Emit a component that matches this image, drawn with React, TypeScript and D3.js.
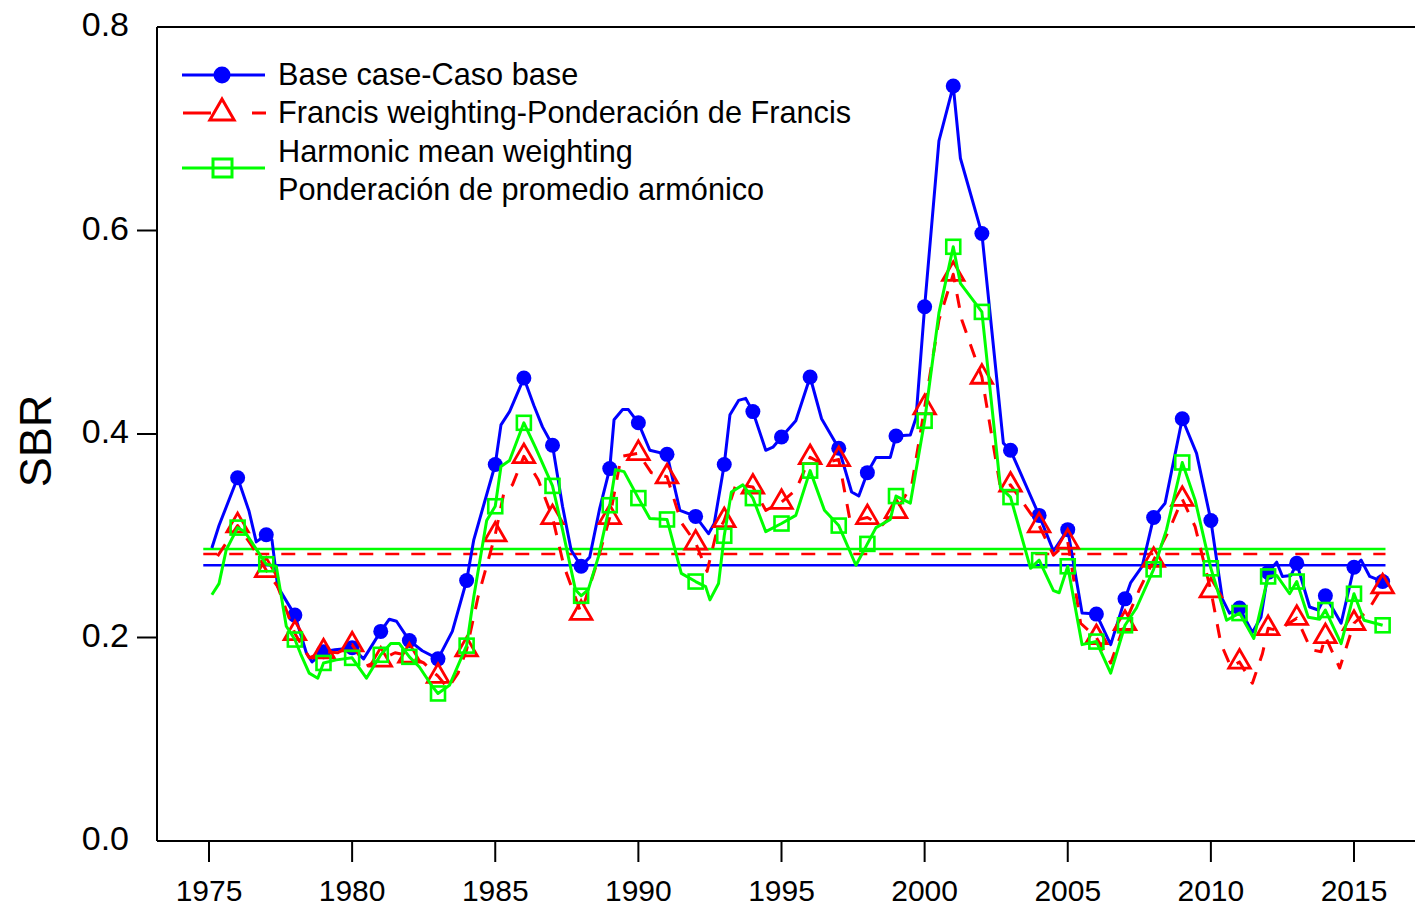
import React from 'react';
import * as d3 from 'd3';

// ---- data (year, SBR) ----
const baseCase: [number, number][] = [
  [1975.1, 0.288], [1975.35, 0.31], [1976, 0.357], [1976.4, 0.324], [1976.65, 0.294], [1977, 0.301],
  [1977.2, 0.296], [1977.4, 0.25], [1978, 0.222], [1978.4, 0.185], [1978.6, 0.176], [1979, 0.186],
  [1979.4, 0.188], [1979.75, 0.189], [1980, 0.19], [1980.4, 0.179], [1981, 0.206], [1981.3, 0.218],
  [1981.55, 0.216], [1982, 0.197], [1982.45, 0.187], [1983, 0.179], [1983.5, 0.206], [1984, 0.256],
  [1984.25, 0.296], [1985, 0.37], [1985.2, 0.409], [1985.5, 0.422], [1986, 0.455], [1986.35, 0.428],
  [1986.65, 0.407], [1987, 0.389], [1987.35, 0.329], [1987.65, 0.286], [1988, 0.27], [1988.3, 0.279],
  [1988.65, 0.327], [1989, 0.366], [1989.15, 0.414], [1989.45, 0.424], [1989.65, 0.424], [1990, 0.411],
  [1990.4, 0.384], [1991, 0.38], [1991.45, 0.325], [1992, 0.319], [1992.45, 0.302], [1992.65, 0.312],
  [1993, 0.37], [1993.2, 0.419], [1993.5, 0.433], [1993.75, 0.435], [1994, 0.422], [1994.45, 0.384],
  [1994.7, 0.387], [1995, 0.397], [1995.5, 0.413], [1996, 0.456], [1996.4, 0.415], [1997, 0.386],
  [1997.45, 0.343], [1997.7, 0.339], [1998, 0.362], [1998.3, 0.377], [1998.8, 0.377], [1999, 0.398],
  [1999.5, 0.399], [1999.7, 0.416], [2000, 0.525], [2000.5, 0.688], [2001, 0.742], [2001.25, 0.671],
  [2002, 0.597], [2002.75, 0.391], [2003, 0.384], [2004, 0.32], [2004.5, 0.285], [2005, 0.306],
  [2005.5, 0.224], [2006, 0.223], [2006.5, 0.193], [2007, 0.238], [2007.2, 0.254], [2007.6, 0.27],
  [2008, 0.318], [2008.4, 0.332], [2009, 0.415], [2009.5, 0.381], [2010, 0.315], [2010.4, 0.238],
  [2010.65, 0.224], [2011, 0.229], [2011.45, 0.205], [2011.75, 0.22], [2012, 0.264], [2012.3, 0.274],
  [2012.5, 0.26], [2012.8, 0.261], [2013, 0.273], [2013.45, 0.23], [2013.75, 0.227], [2014, 0.241],
  [2014.55, 0.214], [2015, 0.269], [2015.25, 0.276], [2015.55, 0.26], [2016, 0.255],
];

const francis: [number, number][] = [
  [1975.3, 0.28], [1976, 0.31], [1976.5, 0.29], [1977, 0.266], [1977.4, 0.25], [1978, 0.204],
  [1978.5, 0.18], [1979, 0.186], [1979.5, 0.185], [1980, 0.193], [1980.5, 0.172], [1981, 0.178],
  [1981.5, 0.185], [1982, 0.182], [1982.5, 0.175], [1983, 0.162], [1983.35, 0.15], [1983.7, 0.165],
  [1984, 0.188], [1984.4, 0.24], [1985, 0.301], [1985.3, 0.342], [1985.6, 0.35], [1986, 0.378],
  [1986.5, 0.355], [1987, 0.318], [1987.4, 0.27], [1988, 0.224], [1988.55, 0.273], [1989, 0.318],
  [1989.4, 0.378], [1990, 0.381], [1990.45, 0.362], [1991, 0.358], [1991.5, 0.313], [1992, 0.293],
  [1992.4, 0.265], [1992.7, 0.3], [1993, 0.315], [1993.4, 0.35], [1994, 0.348], [1994.45, 0.325],
  [1995, 0.333], [1995.5, 0.345], [1996, 0.377], [1996.4, 0.371], [1997, 0.375], [1997.4, 0.314],
  [1998, 0.318], [1998.5, 0.31], [1999, 0.324], [1999.55, 0.35], [2000, 0.426], [2000.5, 0.512],
  [2001, 0.557], [2001.3, 0.512], [2002, 0.456], [2002.65, 0.347], [2003, 0.35], [2004, 0.31],
  [2004.5, 0.281], [2005, 0.294], [2005.45, 0.214], [2006, 0.2], [2006.5, 0.175], [2007, 0.214],
  [2007.5, 0.247], [2008, 0.276], [2008.55, 0.306], [2009, 0.336], [2009.45, 0.309], [2010, 0.246],
  [2010.35, 0.194], [2010.7, 0.171], [2011, 0.176], [2011.45, 0.155], [2011.8, 0.184], [2012, 0.209],
  [2012.35, 0.207], [2013, 0.219], [2013.5, 0.188], [2013.85, 0.186], [2014, 0.201], [2014.5, 0.17],
  [2015, 0.214], [2015.5, 0.227], [2016, 0.25],
];

const harmonic: [number, number][] = [
  [1975.1, 0.242], [1975.35, 0.253], [1975.6, 0.286], [1976, 0.308], [1976.25, 0.304], [1977, 0.272],
  [1977.35, 0.27], [1977.7, 0.211], [1978, 0.198], [1978.2, 0.184], [1978.5, 0.165], [1978.8, 0.16],
  [1979, 0.175], [1979.45, 0.178], [1980, 0.18], [1980.5, 0.16], [1981, 0.183], [1981.35, 0.194],
  [1981.65, 0.194], [1982, 0.181], [1982.35, 0.171], [1982.8, 0.152], [1983, 0.145], [1983.4, 0.153],
  [1984, 0.192], [1984.25, 0.24], [1984.7, 0.315], [1985, 0.329], [1985.2, 0.368], [1985.5, 0.374],
  [1986, 0.411], [1986.4, 0.387], [1987, 0.349], [1987.35, 0.306], [1987.8, 0.247], [1988, 0.241],
  [1988.25, 0.247], [1988.6, 0.279], [1989, 0.33], [1989.2, 0.365], [1989.5, 0.363], [1990, 0.337],
  [1990.4, 0.317], [1991, 0.316], [1991.5, 0.263], [1992, 0.255], [1992.35, 0.25], [1992.5, 0.237],
  [1992.8, 0.253], [1993, 0.3], [1993.25, 0.343], [1993.65, 0.35], [1994, 0.337], [1994.45, 0.304],
  [1995, 0.312], [1995.5, 0.32], [1996, 0.364], [1996.5, 0.325], [1997, 0.31], [1997.6, 0.271],
  [1998, 0.292], [1998.3, 0.308], [1998.8, 0.316], [1999, 0.339], [1999.5, 0.332], [2000, 0.413],
  [2000.5, 0.519], [2001, 0.584], [2001.25, 0.548], [2002, 0.52], [2002.65, 0.347], [2003, 0.338],
  [2003.7, 0.268], [2004, 0.276], [2004.5, 0.246], [2004.7, 0.244], [2005, 0.27], [2005.5, 0.193],
  [2006, 0.196], [2006.5, 0.165], [2007, 0.212], [2007.4, 0.229], [2008, 0.267], [2008.45, 0.306],
  [2009, 0.372], [2009.45, 0.335], [2010, 0.268], [2010.55, 0.217], [2011, 0.224], [2011.5, 0.199],
  [2012, 0.26], [2012.3, 0.261], [2012.75, 0.243], [2013, 0.255], [2013.4, 0.22], [2013.8, 0.218],
  [2014, 0.227], [2014.55, 0.194], [2015, 0.243], [2015.35, 0.217], [2016, 0.212],
];

// reference (mean) levels drawn as horizontal lines
const refLevelBase = 0.271;
const refLevelFrancis = 0.282;
const refLevelHarmonic = 0.287;
const refSpan = [1974.8, 2016.1];

const xTickYears = [1975, 1980, 1985, 1990, 1995, 2000, 2005, 2010, 2015];
const yTickValues = [0, 0.2, 0.4, 0.6, 0.8];
const yTickLabels = ['0.0', '0.2', '0.4', '0.6', '0.8'];
const yTickMarks = [0.2, 0.4, 0.6];

const legendBase = 'Base case-Caso base';
const legendFrancis = 'Francis weighting-Ponderación de Francis';
const legendHarmonic1 = 'Harmonic mean weighting';
const legendHarmonic2 = 'Ponderación de promedio armónico';

const BLUE = '#0000ff';
const RED = '#ff0000';
const GREEN = '#00ff00';
const FONT = '"Liberation Sans", Arial, Helvetica, sans-serif';

const W = 1415;
const H = 905;
const PLOT_LEFT = 157;
const PLOT_TOP = 27;
const PLOT_BOTTOM = 841;

const x = d3.scaleLinear().domain([1975, 2015]).range([209, 1354]);
const y = d3.scaleLinear().domain([0, 0.8]).range([PLOT_BOTTOM, PLOT_TOP]);

const lineGen = d3
  .line<[number, number]>()
  .x((d) => x(d[0]))
  .y((d) => y(d[1]));

const isMarker = (d: [number, number]) => Number.isInteger(d[0]) && d[0] >= 1976;

function trianglePath(cx: number, cy: number, r: number) {
  const top = 1.5551 * r;
  const half = 1.3468 * r;
  const bot = 0.7776 * r;
  return `M${cx},${cy - top}L${cx + half},${cy + bot}L${cx - half},${cy + bot}Z`;
}

export default function App() {
  const markersBase = baseCase.filter(isMarker);
  const markersFrancis = francis.filter(isMarker);
  const markersHarmonic = harmonic.filter(isMarker);

  return (
    <svg
      width={W}
      height={H}
      viewBox={`0 0 ${W} ${H}`}
      style={{ position: 'absolute', left: 0, top: 0, background: '#fff', fontFamily: FONT }}
    >
      <defs>
        <clipPath id="plotClip">
          <rect x={PLOT_LEFT} y={PLOT_TOP} width={W - PLOT_LEFT} height={PLOT_BOTTOM - PLOT_TOP} />
        </clipPath>
      </defs>

      <g clipPath="url(#plotClip)">
        {/* reference lines */}
        <line x1={x(refSpan[0])} x2={x(refSpan[1])} y1={y(refLevelBase)} y2={y(refLevelBase)} stroke={BLUE} strokeWidth={2.5} />
        <line x1={x(refSpan[0])} x2={x(refSpan[1])} y1={y(refLevelFrancis)} y2={y(refLevelFrancis)} stroke={RED} strokeWidth={2.5} strokeDasharray="14 12" />
        <line x1={x(refSpan[0])} x2={x(refSpan[1])} y1={y(refLevelHarmonic)} y2={y(refLevelHarmonic)} stroke={GREEN} strokeWidth={2.5} />

        {/* base case */}
        <path d={lineGen(baseCase) || ''} fill="none" stroke={BLUE} strokeWidth={3} strokeLinejoin="round" />
        {markersBase.map((d, i) => (
          <circle key={'b' + i} cx={x(d[0])} cy={y(d[1])} r={7.5} fill={BLUE} />
        ))}

        {/* Francis */}
        <path d={lineGen(francis) || ''} fill="none" stroke={RED} strokeWidth={3} strokeDasharray="14 12" strokeLinejoin="round" />
        {markersFrancis.map((d, i) => (
          <path key={'f' + i} d={trianglePath(x(d[0]), y(d[1]), 8)} fill="none" stroke={RED} strokeWidth={2.8} />
        ))}

        {/* Harmonic */}
        <path d={lineGen(harmonic) || ''} fill="none" stroke={GREEN} strokeWidth={3} strokeLinejoin="round" />
        {markersHarmonic.map((d, i) => (
          <rect key={'h' + i} x={x(d[0]) - 7} y={y(d[1]) - 7} width={14} height={14} fill="none" stroke={GREEN} strokeWidth={2.6} />
        ))}
      </g>

      {/* frame */}
      <line x1={PLOT_LEFT} x2={PLOT_LEFT} y1={PLOT_TOP} y2={PLOT_BOTTOM} stroke="#000" strokeWidth={2} />
      <line x1={PLOT_LEFT} x2={W} y1={PLOT_TOP} y2={PLOT_TOP} stroke="#000" strokeWidth={2} />
      <line x1={PLOT_LEFT} x2={W} y1={PLOT_BOTTOM} y2={PLOT_BOTTOM} stroke="#000" strokeWidth={2} />

      {/* x axis */}
      {xTickYears.map((t) => (
        <g key={'xt' + t}>
          <line x1={x(t)} x2={x(t)} y1={PLOT_BOTTOM} y2={PLOT_BOTTOM + 21} stroke="#000" strokeWidth={2} />
          <text x={x(t)} y={890} textAnchor="middle" dominantBaseline="central" fontSize={30} fill="#000">
            {t}
          </text>
        </g>
      ))}

      {/* y axis */}
      {yTickMarks.map((v) => (
        <line key={'ym' + v} x1={PLOT_LEFT - 20} x2={PLOT_LEFT} y1={y(v)} y2={y(v)} stroke="#000" strokeWidth={2} />
      ))}
      {yTickValues.map((v, i) => (
        <text key={'yt' + v} x={129} y={y(v) - 3} textAnchor="end" dominantBaseline="central" fontSize={34} fill="#000">
          {yTickLabels[i]}
        </text>
      ))}
      <text
        transform={`translate(35,441) rotate(-90)`}
        textAnchor="middle"
        dominantBaseline="central"
        fontSize={45}
        fill="#000"
      >
        SBR
      </text>

      {/* legend */}
      <g>
        <line x1={182} x2={265} y1={75} y2={75} stroke={BLUE} strokeWidth={3} />
        <circle cx={222} cy={75} r={8.5} fill={BLUE} />
        <text x={278} y={74} dominantBaseline="central" fontSize={30.7} fill="#000">{legendBase}</text>

        <line x1={183} x2={266} y1={113} y2={113} stroke={RED} strokeWidth={3} strokeDasharray="28 41" />
        <path d={trianglePath(222, 113, 9)} fill="none" stroke={RED} strokeWidth={3} />
        <text x={278} y={112} dominantBaseline="central" fontSize={30.7} fill="#000">{legendFrancis}</text>

        <line x1={182} x2={265} y1={168} y2={168} stroke={GREEN} strokeWidth={3} />
        <rect x={213} y={159} width={19} height={18} fill="none" stroke={GREEN} strokeWidth={3} />
        <text x={278} y={151} dominantBaseline="central" fontSize={30.7} fill="#000">{legendHarmonic1}</text>
        <text x={278} y={189} dominantBaseline="central" fontSize={30.7} fill="#000">{legendHarmonic2}</text>
      </g>
    </svg>
  );
}
